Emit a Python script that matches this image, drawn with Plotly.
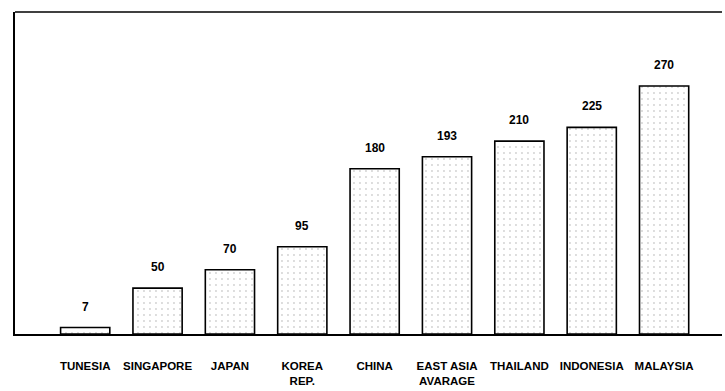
import plotly.graph_objects as go

categories = ["TUNESIA", "SINGAPORE", "JAPAN", "KOREA<br>REP.", "CHINA",
              "EAST ASIA<br>AVARAGE", "THAILAND", "INDONESIA", "MALAYSIA"]
values = [7, 50, 70, 95, 180, 193, 210, 225, 270]
value_labels = ["7", "50", "70", "95", "180", "193", "210", "225", "270"]

xs = list(range(len(categories)))

fig = go.Figure()
fig.add_trace(go.Bar(
    x=xs, y=values,
    marker=dict(
        color="white",
        line=dict(color="black", width=1.6),
        pattern=dict(shape=".", fgcolor="#9a9a9a", bgcolor="white",
                     size=6, solidity=0.08, fgopacity=0.45),
    ),
    showlegend=False,
    hoverinfo="skip",
))

for x, v, t in zip(xs, values, value_labels):
    fig.add_annotation(x=x, y=v, text="<b>%s</b>" % t, showarrow=False, yanchor="middle",
                       yshift=21, font=dict(family="Arial", size=12, color="black"))

fig.update_layout(
    width=725, height=391,
    margin=dict(l=15, r=3, t=12, b=57),
    paper_bgcolor="white", plot_bgcolor="white",
    bargap=0.32,
    font=dict(family="Arial", color="black"),
)
fig.update_xaxes(
    range=[-0.97, 8.8], automargin=False,
    tickmode="array", tickvals=xs, ticktext=["<b>%s</b>" % c for c in categories],
    tickfont=dict(family="Arial", size=11.5, color="black"),
    ticks="", showgrid=False, zeroline=False,
    showline=True, linecolor="black", linewidth=1.5, mirror=False,
    ticklabelstandoff=20,
)
fig.update_yaxes(
    range=[0, 350.6], automargin=False, showticklabels=False, ticks="", showgrid=False,
    zeroline=False, showline=True, linecolor="black", linewidth=2,
)
# top border line
fig.add_shape(type="line", xref="paper", yref="paper", x0=0, x1=1, y0=1, y1=1,
              line=dict(color="black", width=1.5))

fig.write_html("out.html")
